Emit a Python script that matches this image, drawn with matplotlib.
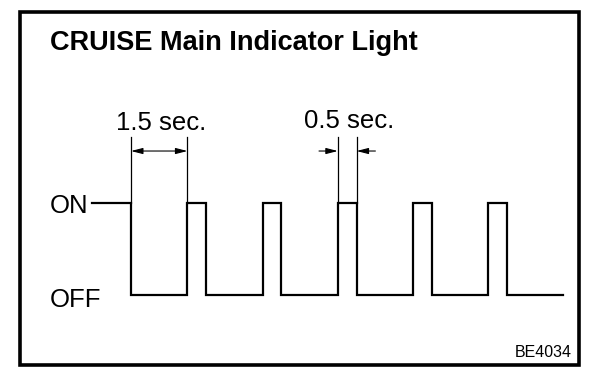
import matplotlib
matplotlib.use('Agg')
import matplotlib.pyplot as plt
from matplotlib.patches import Rectangle

plt.rcParams['font.family'] = ['Liberation Sans', 'DejaVu Sans']

# waveform: time of each change (sec) and the state from there on (1 = ON, 0 = OFF)
times = [-1.05, 0.0, 1.5, 2.0, 3.5, 4.0, 5.5, 6.0, 7.5, 8.0, 9.5, 10.0, 11.5]
states = [1, 0, 1, 0, 1, 0, 1, 0, 1, 0, 1, 0, 0]

title = "CRUISE Main Indicator Light"
level_labels = ["ON", "OFF"]
# dimension marks: (start, end, label)
dim_long = (0.0, 1.5, "1.5 sec.")
dim_short = (5.5, 6.0, "0.5 sec.")
code = "BE4034"

W, H = 608, 382
fig = plt.figure(figsize=(W / 100, H / 100), dpi=100)
ax = fig.add_axes([0, 0, 1, 1])

# pixel mapping: t=0 -> x 131, 37.6 px per sec; ON -> y 203, OFF -> y 295
px_sec = 37.6
ax.set_xlim(-131 / px_sec, (W - 131) / px_sec)
ax.set_ylim((295 - H) / 92, 295 / 92)
ax.axis('off')

ax.plot(times, states, drawstyle='steps-post', color='black', lw=1.6,
        solid_joinstyle='miter')

# extension lines and dimension arrows
ext_top = 1.72
dim_y = 1.565
for t in [dim_long[0], dim_long[1], dim_short[0], dim_short[1]]:
    ax.plot([t, t], [1, ext_top], color='black', lw=0.9)

arrow = dict(arrowstyle='<|-|>,head_length=0.7,head_width=0.18', color='black',
             lw=0.8, shrinkA=0, shrinkB=0, mutation_scale=10)
ax.annotate('', xy=(dim_long[0], dim_y), xytext=(dim_long[1], dim_y), arrowprops=arrow)
one = dict(arrowstyle='-|>,head_length=0.7,head_width=0.18', color='black',
           lw=0.8, shrinkA=0, shrinkB=0, mutation_scale=10)
ax.annotate('', xy=(dim_short[0], dim_y), xytext=(dim_short[0] - 0.5, dim_y), arrowprops=one)
ax.annotate('', xy=(dim_short[1], dim_y), xytext=(dim_short[1] + 0.5, dim_y), arrowprops=one)

ax.text((dim_long[0] + dim_long[1]) / 2 + 0.05, 1.79, dim_long[2], fontsize=18.5,
        ha='center', va='baseline')
ax.text((dim_short[0] + dim_short[1]) / 2 + 0.05, 1.82, dim_short[2], fontsize=18.5,
        ha='center', va='baseline')

# ON / OFF labels
ax.text(-81 / px_sec, 0.97, level_labels[0], fontsize=18.5, ha='left', va='center')
ax.text(-81 / px_sec, -0.05, level_labels[1], fontsize=18.5, ha='left', va='center')

# title, code and frame
fig.text(50 / W, 1 - 50 / H, title, fontsize=19.5, fontweight='bold',
         ha='left', va='baseline')
fig.text(572 / W, 1 - 357 / H, code, fontsize=11.5, ha='right', va='baseline')
fig.patches.append(Rectangle((20 / W, 1 - 364.5 / H), 559 / W, 352.8 / H,
                             transform=fig.transFigure, fill=False,
                             edgecolor='black', lw=2.6))

plt.savefig('out.png', dpi=100)
